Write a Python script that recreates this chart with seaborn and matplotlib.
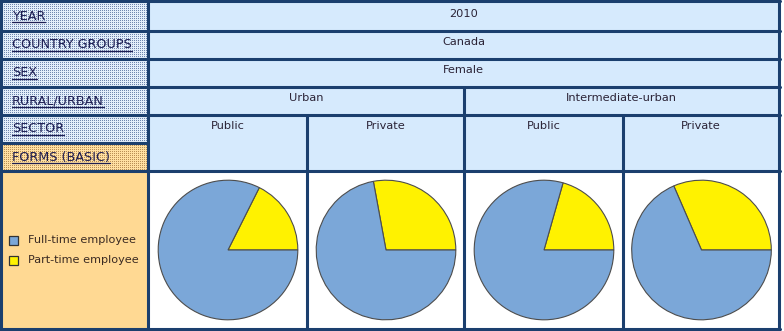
import numpy as np
import matplotlib
matplotlib.use("Agg")
import matplotlib.pyplot as plt
from matplotlib.patches import Rectangle
from matplotlib.lines import Line2D
import seaborn as sns

# ---- data -------------------------------------------------------------
year = "2010"
country_group = "Canada"
sex = "Female"
rural_urban = ["Urban", "Intermediate-urban"]
sectors = ["Public", "Private", "Public", "Private"]
forms = ["Full-time employee", "Part-time employee"]
full_time = [82.4, 72.1, 79.4, 68.5]
part_time = [17.6, 27.9, 20.6, 31.5]
row_labels = ["YEAR", "COUNTRY GROUPS", "SEX", "RURAL/URBAN", "SECTOR", "FORMS (BASIC)"]

# ---- style ------------------------------------------------------------
sns.set_theme(style="white")
plt.rcParams["font.family"] = ["DejaVu Sans"]
pie_colors = sns.color_palette(["#7ba7d8", "#fff200"])
border = "#1b3f6e"
cell_blue = "#d6eafd"
cell_orange = "#ffd993"
label_color = "#1d1d52"
text_color = "#2b2336"

W, H = 784, 331
fig = plt.figure(figsize=(W / 100, H / 100), dpi=100)
ax = fig.add_axes([0, 0, 1, 1])
ax.set_xlim(0, W)
ax.set_ylim(H, 0)
ax.axis("off")

# table geometry (pixels)
x_left, x_split, x_right = 1, 148, 779
rows = [1, 31, 59, 87, 115, 171, 329]
x_sub = [148, 307, 464, 623, 779]


def dotted(x0, x1, y0, y1, base, dot):
    h, w = y1 - y0, x1 - x0
    img = np.empty((h, w, 3))
    img[:] = matplotlib.colors.to_rgb(base)
    img[::2, ::2] = matplotlib.colors.to_rgb(dot)
    ax.imshow(img, extent=(x0, x1, y1, y0), interpolation="nearest", zorder=1)


# cell backgrounds
ax.add_patch(Rectangle((x_split, 0), x_right - x_split, 171, color=cell_blue, zorder=0))
ax.add_patch(Rectangle((x_split, 171), x_right - x_split, 158, color="white", zorder=0))
ax.add_patch(Rectangle((0, 171), x_split, 158, color=cell_orange, zorder=0))
dotted(2, 148, 0, 143, "#e3eefa", "#6f86ae")
dotted(2, 148, 143, 171, "#ffe0a2", "#b98f55")
ax.set_xlim(0, W)
ax.set_ylim(H, 0)

# grid lines
lw = 2.2
for y in rows:
    ax.add_line(Line2D([0, x_right + 1], [y, y], color=border, lw=lw, zorder=3))
ax.add_line(Line2D([0, x_split], [143, 143], color=border, lw=lw, zorder=3))
for x in (x_left, x_split, x_right):
    ax.add_line(Line2D([x, x], [0, 330], color=border, lw=lw, zorder=3))
ax.add_line(Line2D([464, 464], [87, 330], color=border, lw=lw, zorder=3))
for x in (307, 623):
    ax.add_line(Line2D([x, x], [115, 330], color=border, lw=lw, zorder=3))

# row header labels (underlined)
label_y = [16, 45, 73, 101, 129, 157]
label_texts = []
for txt, y in zip(row_labels, label_y):
    t = ax.text(12, y, txt, fontsize=9.2, color=label_color, va="center", ha="left", zorder=4)
    label_texts.append(t)

# column header values
fs = 8.2
xc = (x_split + x_right) / 2
ax.text(xc, 14, year, fontsize=fs, color=text_color, ha="center", va="center", zorder=4)
ax.text(xc, 42, country_group, fontsize=fs, color=text_color, ha="center", va="center", zorder=4)
ax.text(xc, 70, sex, fontsize=fs, color=text_color, ha="center", va="center", zorder=4)
for i, name in enumerate(rural_urban):
    cx = (x_sub[2 * i] + x_sub[2 * i + 2]) / 2
    ax.text(cx, 98, name, fontsize=fs, color=text_color, ha="center", va="center", zorder=4)
for i, name in enumerate(sectors):
    cx = (x_sub[i] + x_sub[i + 1]) / 2
    ax.text(cx, 126, name, fontsize=fs, color=text_color, ha="center", va="center", zorder=4)

# pies
r = 70.5
cy = 250
for i in range(4):
    cx = (x_sub[i] + x_sub[i + 1]) / 2 + 0.5
    pax = fig.add_axes([(cx - r) / W, (H - cy - r) / H, 2 * r / W, 2 * r / H])
    pax.pie([part_time[i], full_time[i]], colors=[pie_colors[1], pie_colors[0]],
            startangle=0, counterclock=True, radius=1,
            wedgeprops=dict(edgecolor="#4d4d4d", linewidth=0.8))
    pax.set_xlim(-1.01, 1.01)
    pax.set_ylim(-1.01, 1.01)
    pax.axis("off")

# legend
for j, (name, col) in enumerate(zip(forms, [pie_colors[0], pie_colors[1]])):
    y = 240 + 20 * j
    ax.add_patch(Rectangle((9, y - 4.5), 9, 9, facecolor=col, edgecolor="#333333", lw=0.9, zorder=4))
    ax.text(28, y, name, fontsize=8.1, color="#3a2a22", va="center", ha="left", zorder=4)

# underline the row header labels
fig.canvas.draw()
renderer = fig.canvas.get_renderer()
inv = ax.transData.inverted()
for t in label_texts:
    bb = t.get_window_extent(renderer)
    (x0, y0), (x1, _) = inv.transform([[bb.x0, bb.y0], [bb.x1, bb.y1]])
    ax.add_line(Line2D([x0, x1], [y0 - 0.5, y0 - 0.5], color=label_color, lw=0.9, zorder=4))

fig.savefig("out.png", dpi=100)
